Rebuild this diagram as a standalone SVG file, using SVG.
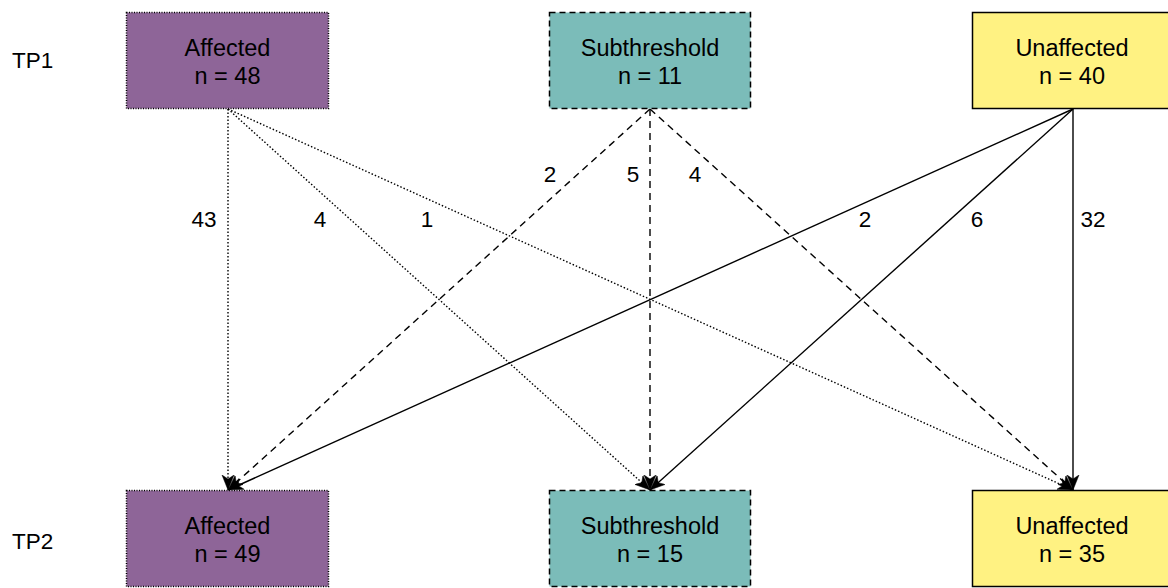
<svg xmlns="http://www.w3.org/2000/svg" width="1168" height="588" viewBox="0 0 1168 588">
<defs>
<style>
text{font-family:"Liberation Sans",Arial,sans-serif;font-size:22.5px;fill:#000}
.box text{text-anchor:middle;font-size:23.5px}
.aff{fill:#8e6598;stroke:#000;stroke-width:1.5;stroke-dasharray:1 1.5}
.sub{fill:#7bbcb9;stroke:#000;stroke-width:1.5;stroke-dasharray:6 4}
.una{fill:#fff282;stroke:#000;stroke-width:1.5}
.e{fill:none;stroke:#000;stroke-width:1.4;marker-end:url(#arr)}
.dot{stroke-dasharray:1.5 2}
.dash{stroke-dasharray:7 5}
.lbl{text-anchor:middle}
</style>
<marker id="arr" markerWidth="16" markerHeight="14" viewBox="0 0 16 14" refX="15" refY="7" orient="auto" markerUnits="userSpaceOnUse">
<path d="M0,1 L15,7 L0,13 L4,7 Z" fill="#000" stroke="#000" stroke-width="0.5"/>
</marker>
</defs>
<rect width="1168" height="588" fill="#fff"/>
<text x="12" y="68">TP1</text>
<text x="12" y="549">TP2</text>
<g id="connectors">
<line class="e dot" x1="228" y1="109" x2="228" y2="490"/>
<line class="e dot" x1="228" y1="109" x2="650" y2="490"/>
<line class="e dot" x1="228" y1="109" x2="1073" y2="490"/>
<line class="e dash" x1="650" y1="109" x2="228" y2="490"/>
<line class="e dash" x1="650" y1="109" x2="650" y2="490"/>
<line class="e dash" x1="650" y1="109" x2="1073" y2="490"/>
<line class="e" x1="1073" y1="109" x2="228" y2="490"/>
<line class="e" x1="1073" y1="109" x2="650" y2="490"/>
<line class="e" x1="1073" y1="109" x2="1073" y2="490"/>
<text class="lbl" x="204" y="227">43</text>
<text class="lbl" x="320" y="227">4</text>
<text class="lbl" x="427" y="227">1</text>
<text class="lbl" x="550" y="182">2</text>
<text class="lbl" x="633" y="182">5</text>
<text class="lbl" x="695" y="182">4</text>
<text class="lbl" x="865" y="227">2</text>
<text class="lbl" x="977" y="227">6</text>
<text class="lbl" x="1093" y="227">32</text>
</g>
<g id="tp1-affected" class="box">
<rect class="aff" x="126.5" y="12.5" width="202" height="96"/>
<text x="227.5" y="56">Affected</text>
<text x="227.5" y="84">n = 48</text>
</g>
<g id="tp1-subthreshold" class="box">
<rect class="sub" x="549.5" y="12.5" width="201" height="96"/>
<text x="650" y="56">Subthreshold</text>
<text x="650" y="84">n = 11</text>
</g>
<g id="tp1-unaffected" class="box">
<rect class="una" x="972.5" y="12.5" width="201" height="96"/>
<text x="1072" y="56">Unaffected</text>
<text x="1072" y="84">n = 40</text>
</g>
<g id="tp2-affected" class="box">
<rect class="aff" x="126.5" y="490.5" width="202" height="96"/>
<text x="227.5" y="534">Affected</text>
<text x="227.5" y="562">n = 49</text>
</g>
<g id="tp2-subthreshold" class="box">
<rect class="sub" x="549.5" y="490.5" width="201" height="96"/>
<text x="650" y="534">Subthreshold</text>
<text x="650" y="562">n = 15</text>
</g>
<g id="tp2-unaffected" class="box">
<rect class="una" x="972.5" y="490.5" width="201" height="96"/>
<text x="1072" y="534">Unaffected</text>
<text x="1072" y="562">n = 35</text>
</g>
</svg>
